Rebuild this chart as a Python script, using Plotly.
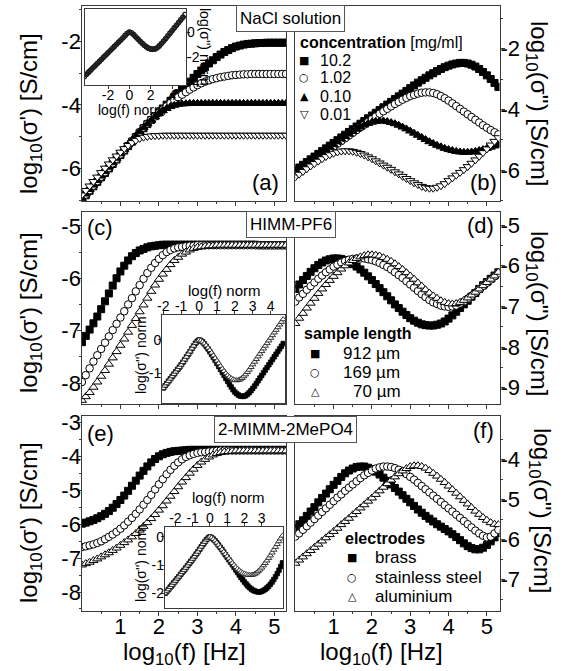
import plotly.graph_objects as go

# ---------------- data ----------------
LOG_F = [0.0, 0.1, 0.2, 0.3, 0.4, 0.5, 0.6, 0.7, 0.8, 0.9,
         1.0, 1.1, 1.2, 1.3, 1.4, 1.5, 1.6, 1.7, 1.8, 1.9,
         2.0, 2.1, 2.2, 2.3, 2.4, 2.5, 2.6, 2.7, 2.8, 2.9,
         3.0, 3.1, 3.2, 3.3, 3.4, 3.5, 3.6, 3.7, 3.8, 3.9,
         4.0, 4.1, 4.2, 4.3, 4.4, 4.5, 4.6, 4.7, 4.8, 4.9,
         5.0, 5.1, 5.2, 5.3]

# (a) NaCl solution, log sigma'
NACL_RE_10_2 = [-6.97, -6.83, -6.69, -6.55, -6.41, -6.27, -6.13, -5.99, -5.85, -5.71,
                -5.57, -5.43, -5.29, -5.15, -5.01, -4.87, -4.73, -4.60, -4.47, -4.35,
                -4.23, -4.11, -3.99, -3.87, -3.75, -3.63, -3.51, -3.39, -3.27, -3.15,
                -3.03, -2.92, -2.81, -2.70, -2.60, -2.50, -2.42, -2.34, -2.28, -2.22,
                -2.17, -2.14, -2.11, -2.09, -2.08, -2.07, -2.06, -2.06, -2.05, -2.05,
                -2.05, -2.05, -2.05, -2.05]
NACL_RE_1_02 = [-6.95, -6.81, -6.67, -6.53, -6.39, -6.25, -6.11, -5.97, -5.83, -5.69,
                -5.55, -5.41, -5.27, -5.13, -4.99, -4.85, -4.71, -4.58, -4.46, -4.36,
                -4.25, -4.14, -4.04, -3.94, -3.85, -3.76, -3.68, -3.60, -3.52, -3.45,
                -3.38, -3.32, -3.27, -3.23, -3.19, -3.16, -3.13, -3.11, -3.09, -3.07,
                -3.06, -3.05, -3.04, -3.04, -3.03, -3.03, -3.03, -3.03, -3.03, -3.03,
                -3.03, -3.03, -3.03, -3.03]
NACL_RE_0_10 = [-6.93, -6.79, -6.65, -6.51, -6.37, -6.23, -6.09, -5.95, -5.81, -5.67,
                -5.53, -5.39, -5.25, -5.11, -4.97, -4.84, -4.71, -4.59, -4.48, -4.37,
                -4.27, -4.18, -4.11, -4.05, -4.01, -3.98, -3.97, -3.96, -3.95, -3.95,
                -3.95, -3.95, -3.95, -3.95, -3.95, -3.95, -3.95, -3.95, -3.95, -3.95,
                -3.95, -3.95, -3.95, -3.95, -3.95, -3.95, -3.95, -3.95, -3.95, -3.95,
                -3.95, -3.95, -3.95, -3.95]
NACL_RE_0_01 = [-6.82, -6.68, -6.54, -6.40, -6.26, -6.12, -5.98, -5.85, -5.72, -5.60,
                -5.48, -5.37, -5.27, -5.18, -5.11, -5.05, -5.01, -4.99, -4.97, -4.96,
                -4.96, -4.95, -4.95, -4.95, -4.95, -4.95, -4.95, -4.95, -4.95, -4.95,
                -4.95, -4.95, -4.95, -4.95, -4.95, -4.95, -4.95, -4.95, -4.95, -4.95,
                -4.95, -4.95, -4.95, -4.95, -4.95, -4.95, -4.95, -4.95, -4.95, -4.95,
                -4.95, -4.95, -4.95, -4.95]

# (b) NaCl solution, log sigma''
NACL_IM_10_2 = [-6.00, -5.91, -5.82, -5.73, -5.64, -5.55, -5.46, -5.37, -5.28, -5.19,
                -5.10, -5.01, -4.92, -4.83, -4.74, -4.65, -4.56, -4.47, -4.38, -4.29,
                -4.20, -4.11, -4.02, -3.93, -3.84, -3.75, -3.66, -3.57, -3.48, -3.39,
                -3.30, -3.21, -3.12, -3.04, -2.96, -2.88, -2.81, -2.74, -2.67, -2.61,
                -2.56, -2.52, -2.49, -2.47, -2.47, -2.49, -2.53, -2.59, -2.67, -2.77,
                -2.88, -3.00, -3.13, -3.26]
NACL_IM_1_02 = [-6.12, -6.03, -5.94, -5.85, -5.76, -5.67, -5.58, -5.49, -5.40, -5.31,
                -5.22, -5.13, -5.04, -4.95, -4.86, -4.77, -4.68, -4.59, -4.50, -4.41,
                -4.32, -4.23, -4.14, -4.06, -3.98, -3.90, -3.82, -3.75, -3.68, -3.62,
                -3.56, -3.52, -3.48, -3.45, -3.44, -3.44, -3.46, -3.50, -3.56, -3.63,
                -3.71, -3.80, -3.89, -3.98, -4.07, -4.16, -4.25, -4.34, -4.43, -4.52,
                -4.60, -4.68, -4.75, -4.82]
NACL_IM_0_10 = [-6.05, -5.96, -5.87, -5.78, -5.69, -5.60, -5.51, -5.42, -5.33, -5.24,
                -5.15, -5.06, -4.97, -4.89, -4.81, -4.73, -4.65, -4.58, -4.51, -4.46,
                -4.42, -4.39, -4.38, -4.38, -4.40, -4.43, -4.47, -4.52, -4.58, -4.64,
                -4.71, -4.78, -4.85, -4.92, -4.99, -5.06, -5.12, -5.18, -5.23, -5.28,
                -5.32, -5.35, -5.38, -5.40, -5.41, -5.41, -5.40, -5.38, -5.35, -5.32,
                -5.28, -5.24, -5.20, -5.16]
NACL_IM_0_01 = [-6.22, -6.13, -6.04, -5.95, -5.86, -5.78, -5.70, -5.62, -5.55, -5.49,
                -5.44, -5.40, -5.37, -5.36, -5.36, -5.38, -5.41, -5.45, -5.50, -5.56,
                -5.62, -5.69, -5.76, -5.83, -5.90, -5.97, -6.05, -6.12, -6.20, -6.27,
                -6.34, -6.41, -6.47, -6.53, -6.57, -6.59, -6.59, -6.56, -6.51, -6.44,
                -6.34, -6.25, -6.16, -6.07, -5.98, -5.88, -5.77, -5.66, -5.54, -5.42,
                -5.30, -5.17, -5.05, -4.93]

# (c) HIMM-PF6, log sigma'
HIMM_RE_912 = [-7.22, -7.10, -6.98, -6.86, -6.73, -6.59, -6.44, -6.29, -6.14, -6.00,
               -5.87, -5.76, -5.66, -5.58, -5.52, -5.47, -5.44, -5.41, -5.39, -5.38,
               -5.37, -5.36, -5.36, -5.36, -5.36, -5.36, -5.36, -5.36, -5.36, -5.36,
               -5.36, -5.36, -5.36, -5.36, -5.36, -5.36, -5.36, -5.36, -5.36, -5.36,
               -5.36, -5.36, -5.36, -5.36, -5.36, -5.36, -5.37, -5.37, -5.37, -5.37,
               -5.37, -5.37, -5.37, -5.37]
HIMM_RE_169 = [-7.98, -7.85, -7.72, -7.59, -7.47, -7.35, -7.23, -7.11, -6.99, -6.87,
               -6.75, -6.63, -6.50, -6.38, -6.25, -6.13, -6.01, -5.90, -5.80, -5.71,
               -5.63, -5.56, -5.50, -5.46, -5.43, -5.41, -5.40, -5.39, -5.38, -5.38,
               -5.37, -5.37, -5.37, -5.37, -5.37, -5.37, -5.37, -5.37, -5.37, -5.37,
               -5.37, -5.37, -5.37, -5.37, -5.37, -5.37, -5.37, -5.37, -5.37, -5.37,
               -5.37, -5.37, -5.37, -5.37]
HIMM_RE_70 = [-8.33, -8.26, -8.18, -8.08, -7.98, -7.87, -7.76, -7.64, -7.52, -7.40,
              -7.28, -7.16, -7.03, -6.90, -6.77, -6.64, -6.51, -6.38, -6.25, -6.13,
              -6.02, -5.92, -5.83, -5.74, -5.66, -5.60, -5.54, -5.50, -5.46, -5.43,
              -5.41, -5.40, -5.39, -5.38, -5.38, -5.37, -5.37, -5.37, -5.37, -5.37,
              -5.37, -5.37, -5.37, -5.37, -5.37, -5.37, -5.37, -5.37, -5.37, -5.37,
              -5.37, -5.37, -5.37, -5.37]

# (d) HIMM-PF6, log sigma''
HIMM_IM_912 = [-6.57, -6.46, -6.35, -6.25, -6.15, -6.06, -5.98, -5.92, -5.87, -5.84,
               -5.82, -5.82, -5.83, -5.86, -5.90, -5.96, -6.02, -6.09, -6.17, -6.26,
               -6.35, -6.45, -6.55, -6.65, -6.75, -6.85, -6.95, -7.04, -7.13, -7.21,
               -7.29, -7.35, -7.40, -7.44, -7.46, -7.47, -7.47, -7.45, -7.42, -7.37,
               -7.30, -7.22, -7.13, -7.04, -6.95, -6.86, -6.76, -6.67, -6.57, -6.48,
               -6.40, -6.32, -6.24, -6.16]
HIMM_IM_169 = [-6.88, -6.78, -6.69, -6.59, -6.50, -6.41, -6.32, -6.24, -6.16, -6.09,
               -6.02, -5.97, -5.92, -5.88, -5.85, -5.83, -5.82, -5.82, -5.82, -5.84,
               -5.86, -5.89, -5.93, -5.98, -6.03, -6.09, -6.16, -6.23, -6.30, -6.38,
               -6.46, -6.54, -6.62, -6.70, -6.77, -6.84, -6.90, -6.94, -6.98, -7.00,
               -7.01, -7.00, -6.98, -6.93, -6.88, -6.81, -6.74, -6.66, -6.58, -6.50,
               -6.42, -6.34, -6.26, -6.18]
HIMM_IM_70 = [-7.42, -7.29, -7.17, -7.04, -6.92, -6.80, -6.68, -6.57, -6.46, -6.36,
              -6.26, -6.17, -6.08, -6.00, -5.93, -5.87, -5.82, -5.78, -5.75, -5.73,
              -5.73, -5.74, -5.76, -5.80, -5.84, -5.89, -5.95, -6.02, -6.09, -6.17,
              -6.25, -6.33, -6.42, -6.50, -6.59, -6.67, -6.74, -6.80, -6.86, -6.90,
              -6.93, -6.94, -6.93, -6.90, -6.85, -6.79, -6.72, -6.65, -6.57, -6.49,
              -6.41, -6.33, -6.25, -6.16]

# (e) 2-MIMM-2MePO4, log sigma'
MIMM_RE_BRASS = [-5.98, -5.95, -5.91, -5.87, -5.82, -5.76, -5.69, -5.61, -5.51, -5.40,
                 -5.28, -5.15, -5.01, -4.86, -4.71, -4.56, -4.42, -4.29, -4.17, -4.07,
                 -3.99, -3.93, -3.89, -3.86, -3.84, -3.83, -3.82, -3.81, -3.80, -3.80,
                 -3.80, -3.80, -3.80, -3.80, -3.80, -3.80, -3.80, -3.80, -3.80, -3.80,
                 -3.80, -3.80, -3.80, -3.80, -3.80, -3.80, -3.80, -3.80, -3.80, -3.80,
                 -3.80, -3.80, -3.80, -3.80]
MIMM_RE_STEEL = [-6.67, -6.65, -6.62, -6.59, -6.55, -6.50, -6.44, -6.37, -6.30, -6.22,
                 -6.13, -6.03, -5.92, -5.81, -5.69, -5.56, -5.42, -5.28, -5.13, -4.97,
                 -4.82, -4.67, -4.52, -4.39, -4.27, -4.17, -4.08, -4.01, -3.96, -3.92,
                 -3.89, -3.87, -3.86, -3.85, -3.84, -3.83, -3.82, -3.82, -3.82, -3.82,
                 -3.82, -3.82, -3.82, -3.82, -3.82, -3.82, -3.82, -3.82, -3.82, -3.82,
                 -3.82, -3.82, -3.82, -3.82]
MIMM_RE_ALU = [-7.20, -7.16, -7.12, -7.07, -7.02, -6.96, -6.90, -6.84, -6.77, -6.70,
               -6.62, -6.54, -6.46, -6.37, -6.27, -6.17, -6.06, -5.95, -5.83, -5.71,
               -5.58, -5.45, -5.31, -5.17, -5.03, -4.89, -4.75, -4.62, -4.49, -4.37,
               -4.26, -4.16, -4.08, -4.01, -3.95, -3.91, -3.88, -3.86, -3.85, -3.84,
               -3.83, -3.83, -3.83, -3.83, -3.83, -3.83, -3.83, -3.83, -3.83, -3.83,
               -3.83, -3.83, -3.83, -3.83]

# (f) 2-MIMM-2MePO4, log sigma''
MIMM_IM_BRASS = [-5.72, -5.62, -5.52, -5.41, -5.30, -5.19, -5.07, -4.96, -4.85, -4.74,
                 -4.63, -4.53, -4.43, -4.34, -4.27, -4.22, -4.18, -4.17, -4.17, -4.20,
                 -4.24, -4.30, -4.37, -4.45, -4.53, -4.62, -4.71, -4.80, -4.89, -4.98,
                 -5.07, -5.16, -5.25, -5.33, -5.41, -5.48, -5.55, -5.62, -5.68, -5.74,
                 -5.80, -5.87, -5.94, -6.02, -6.10, -6.17, -6.22, -6.25, -6.25, -6.21,
                 -6.14, -6.05, -5.95, -5.84]
MIMM_IM_STEEL = [-5.93, -5.85, -5.76, -5.67, -5.58, -5.49, -5.40, -5.31, -5.22, -5.13,
                 -5.04, -4.95, -4.87, -4.78, -4.70, -4.62, -4.54, -4.46, -4.39, -4.33,
                 -4.27, -4.22, -4.19, -4.17, -4.17, -4.18, -4.21, -4.25, -4.30, -4.36,
                 -4.43, -4.50, -4.58, -4.66, -4.74, -4.82, -4.90, -4.98, -5.06, -5.14,
                 -5.22, -5.30, -5.38, -5.46, -5.54, -5.62, -5.70, -5.78, -5.85, -5.91,
                 -5.95, -5.93, -5.85, -5.76]
MIMM_IM_ALU = [-6.60, -6.52, -6.44, -6.36, -6.28, -6.20, -6.12, -6.04, -5.96, -5.88,
               -5.80, -5.72, -5.63, -5.55, -5.47, -5.38, -5.30, -5.21, -5.13, -5.04,
               -4.96, -4.87, -4.78, -4.69, -4.60, -4.51, -4.43, -4.35, -4.28, -4.22,
               -4.17, -4.15, -4.15, -4.17, -4.21, -4.27, -4.34, -4.41, -4.49, -4.57,
               -4.66, -4.75, -4.84, -4.93, -5.02, -5.11, -5.20, -5.29, -5.37, -5.45,
               -5.52, -5.58, -5.62, -5.63]

# insets: normalised master curves
NORM_F_A = [-4.2, -4.0, -3.8, -3.6, -3.4, -3.2, -3.0, -2.8, -2.6, -2.4,
            -2.2, -2.0, -1.8, -1.6, -1.4, -1.2, -1.0, -0.8, -0.6, -0.4,
            -0.2, 0.0, 0.2, 0.4, 0.6, 0.8, 1.0, 1.2, 1.4, 1.6,
            1.8, 2.0, 2.2, 2.4, 2.6, 2.8, 3.0, 3.2, 3.4, 3.6,
            3.8, 4.0, 4.2, 4.4, 4.6, 4.8, 5.0, 5.2]
NACL_NORM_HI = [-3.52, -3.35, -3.18, -3.01, -2.84, -2.67, -2.50, -2.33, -2.16, -1.99,
                -1.82, -1.65, -1.48, -1.31, -1.14, -0.97, -0.80, -0.63, -0.46, -0.27,
                -0.10, 0.00, -0.06, -0.20, -0.38, -0.56, -0.74, -0.90, -1.05, -1.18,
                -1.28, -1.34, -1.36, -1.34, -1.25, -1.10, -0.92, -0.72, -0.51, -0.30,
                -0.09, 0.12, 0.33, 0.54, 0.75, 0.96, 1.17, 1.38]
NACL_NORM_LO = [-3.45, -3.28, -3.11, -2.94, -2.77, -2.60, -2.43, -2.26, -2.09, -1.92,
                -1.75, -1.58, -1.41, -1.24, -1.07, -0.90, -0.73, -0.56, -0.40, -0.22,
                -0.07, 0.00, -0.10, -0.25, -0.43, -0.61, -0.79, -0.96, -1.11, -1.24,
                -1.33, -1.38, -1.39, -1.35, -1.26, -1.12, -0.95, -0.76, -0.56, -0.35,
                -0.14, 0.07, 0.28, 0.49, 0.70, 0.91, 1.12, 1.33]

NORM_F_C = [-2.0, -1.9, -1.8, -1.7, -1.6, -1.5, -1.4, -1.3, -1.2, -1.1,
            -1.0, -0.9, -0.8, -0.7, -0.6, -0.5, -0.4, -0.3, -0.2, -0.1,
            0.0, 0.1, 0.2, 0.3, 0.4, 0.5, 0.6, 0.7, 0.8, 0.9,
            1.0, 1.1, 1.2, 1.3, 1.4, 1.5, 1.6, 1.7, 1.8, 1.9,
            2.0, 2.1, 2.2, 2.3, 2.4, 2.5, 2.6, 2.7, 2.8, 2.9,
            3.0, 3.1, 3.2, 3.3, 3.4, 3.5, 3.6, 3.7, 3.8, 3.9,
            4.0, 4.1, 4.2, 4.3, 4.4, 4.5, 4.6, 4.7]
HIMM_NORM_912 = [-1.45, -1.38, -1.31, -1.24, -1.17, -1.10, -1.03, -0.96, -0.89, -0.82,
                 -0.75, -0.67, -0.59, -0.51, -0.43, -0.35, -0.26, -0.18, -0.10, -0.04,
                 0.00, -0.02, -0.06, -0.12, -0.19, -0.27, -0.35, -0.44, -0.53, -0.62,
                 -0.71, -0.80, -0.89, -0.98, -1.07, -1.16, -1.25, -1.34, -1.42, -1.50,
                 -1.57, -1.62, -1.66, -1.69, -1.70, -1.70, -1.68, -1.64, -1.59, -1.53,
                 -1.46, -1.39, -1.31, -1.23, -1.15, -1.07, -0.99, -0.91, -0.83, -0.75,
                 -0.67, -0.59, -0.51, -0.43, -0.35, -0.27, -0.19, -0.11]
HIMM_NORM_70 = [-1.45, -1.38, -1.31, -1.24, -1.17, -1.10, -1.03, -0.96, -0.89, -0.82,
                -0.75, -0.67, -0.59, -0.51, -0.43, -0.35, -0.26, -0.18, -0.10, -0.04,
                0.00, -0.02, -0.06, -0.11, -0.17, -0.24, -0.31, -0.39, -0.47, -0.55,
                -0.63, -0.71, -0.79, -0.87, -0.94, -1.01, -1.07, -1.12, -1.16, -1.19,
                -1.21, -1.22, -1.21, -1.19, -1.15, -1.10, -1.04, -0.97, -0.90, -0.82,
                -0.74, -0.66, -0.58, -0.50, -0.42, -0.34, -0.26, -0.18, -0.10, -0.02,
                0.06, 0.14, 0.22, 0.30, 0.38, 0.46, 0.54, 0.62]

NORM_F_E = [-2.6, -2.5, -2.4, -2.3, -2.2, -2.1, -2.0, -1.9, -1.8, -1.7,
            -1.6, -1.5, -1.4, -1.3, -1.2, -1.1, -1.0, -0.9, -0.8, -0.7,
            -0.6, -0.5, -0.4, -0.3, -0.2, -0.1, 0.0, 0.1, 0.2, 0.3,
            0.4, 0.5, 0.6, 0.7, 0.8, 0.9, 1.0, 1.1, 1.2, 1.3,
            1.4, 1.5, 1.6, 1.7, 1.8, 1.9, 2.0, 2.1, 2.2, 2.3,
            2.4, 2.5, 2.6, 2.7, 2.8, 2.9, 3.0, 3.1, 3.2, 3.3,
            3.4, 3.5, 3.6, 3.7, 3.8, 3.9, 4.0, 4.1, 4.2]
MIMM_NORM_BRASS = [-2.00, -1.93, -1.86, -1.78, -1.71, -1.63, -1.56, -1.48, -1.41, -1.33,
                   -1.25, -1.18, -1.10, -1.02, -0.94, -0.86, -0.78, -0.70, -0.61, -0.53,
                   -0.44, -0.35, -0.26, -0.18, -0.10, -0.04, 0.00,
                   -0.03, -0.08, -0.14, -0.21, -0.29, -0.37, -0.45, -0.54, -0.63, -0.72,
                   -0.81, -0.90, -0.99, -1.08, -1.17, -1.26, -1.35, -1.44, -1.52, -1.60,
                   -1.67, -1.74, -1.80, -1.85, -1.89, -1.92, -1.94, -1.95, -1.95, -1.93,
                   -1.90, -1.86, -1.81, -1.75, -1.68, -1.60, -1.51, -1.41, -1.30, -1.18,
                   -1.05, -0.92]
MIMM_NORM_ALU = [-2.00, -1.93, -1.86, -1.78, -1.71, -1.63, -1.56, -1.48, -1.41, -1.33,
                 -1.25, -1.18, -1.10, -1.02, -0.94, -0.86, -0.78, -0.70, -0.61, -0.53,
                 -0.44, -0.35, -0.26, -0.18, -0.10, -0.04, 0.00,
                 -0.03, -0.08, -0.14, -0.21, -0.29, -0.37, -0.45, -0.53, -0.61, -0.69,
                 -0.77, -0.85, -0.93, -1.00, -1.07, -1.13, -1.19, -1.24, -1.28, -1.31,
                 -1.33, -1.35, -1.35, -1.35, -1.34, -1.31, -1.27, -1.22, -1.16, -1.09,
                 -1.01, -0.93, -0.84, -0.75, -0.66, -0.56, -0.46, -0.36, -0.26, -0.16,
                 -0.06, 0.04]

for arr in [NACL_RE_10_2, NACL_RE_1_02, NACL_RE_0_10, NACL_RE_0_01,
            NACL_IM_10_2, NACL_IM_1_02, NACL_IM_0_10, NACL_IM_0_01,
            HIMM_RE_912, HIMM_RE_169, HIMM_RE_70, HIMM_IM_912, HIMM_IM_169, HIMM_IM_70,
            MIMM_RE_BRASS, MIMM_RE_STEEL, MIMM_RE_ALU, MIMM_IM_BRASS, MIMM_IM_STEEL, MIMM_IM_ALU]:
    assert len(arr) == len(LOG_F), len(arr)
assert len(NACL_NORM_HI) == len(NORM_F_A) == len(NACL_NORM_LO)
assert len(HIMM_NORM_912) == len(NORM_F_C) == len(HIMM_NORM_70)
assert len(MIMM_NORM_BRASS) == len(NORM_F_E) == len(MIMM_NORM_ALU)

# ---------------- styling / layout ----------------
W, H = 567, 671
FONT = "Liberation Sans, Arial, Helvetica, sans-serif"
SYMFONT = "DejaVu Sans"
LC = "#3a3a3a"


def fx(p):
    return p / W


def fy(p):
    return 1 - p / H


LEFT = (81.9, 286.0)
RIGHT = (295.3, 499.5)
ROW1 = (6.0, 200.7)
ROW2 = (211.7, 404.0)
ROW3 = (416.0, 611.0)

MK_SQ = dict(symbol="square", size=7, color="black", line=dict(color="black", width=1))
MK_CI = dict(symbol="circle", size=7.5, color="white", line=dict(color="black", width=1))
MK_TU = dict(symbol="triangle-up", size=8, color="black", line=dict(color="black", width=1))
MK_TD_O = dict(symbol="triangle-down", size=8, color="white", line=dict(color="black", width=1))
MK_TU_O = dict(symbol="triangle-up", size=8, color="white", line=dict(color="black", width=1))

fig = go.Figure()


def sfx(n):
    return "" if n == 1 else str(n)


def add(x, y, n, mk=None, name="", mode="markers", line=None):
    fig.add_trace(go.Scatter(x=x, y=y, xaxis="x" + sfx(n), yaxis="y" + sfx(n),
                             mode=mode, marker=mk, line=line, name=name,
                             showlegend=False, hoverinfo="skip"))


# (a)
add(LOG_F, NACL_RE_10_2, 1, MK_SQ, "10.2")
add(LOG_F, NACL_RE_1_02, 1, MK_CI, "1.02")
add(LOG_F, NACL_RE_0_10, 1, MK_TU, "0.10")
add(LOG_F, NACL_RE_0_01, 1, MK_TD_O, "0.01")
# (b)
add(LOG_F, NACL_IM_10_2, 2, MK_SQ, "10.2")
add(LOG_F, NACL_IM_1_02, 2, MK_CI, "1.02")
add(LOG_F, NACL_IM_0_10, 2, MK_TU, "0.10")
add(LOG_F, NACL_IM_0_01, 2, MK_TD_O, "0.01")
# (c)
add(LOG_F, HIMM_RE_912, 3, MK_SQ, "912 µm")
add(LOG_F, HIMM_RE_169, 3, MK_CI, "169 µm")
add(LOG_F, HIMM_RE_70, 3, MK_TU_O, "70 µm")
# (d)
add(LOG_F, HIMM_IM_912, 4, MK_SQ, "912 µm")
add(LOG_F, HIMM_IM_169, 4, MK_CI, "169 µm")
add(LOG_F, HIMM_IM_70, 4, MK_TU_O, "70 µm")
# (e)
add(LOG_F, MIMM_RE_BRASS, 5, MK_SQ, "brass")
add(LOG_F, MIMM_RE_STEEL, 5, MK_CI, "stainless steel")
add(LOG_F, MIMM_RE_ALU, 5, MK_TU_O, "aluminium")
# (f)
add(LOG_F, MIMM_IM_BRASS, 6, MK_SQ, "brass")
add(LOG_F, MIMM_IM_STEEL, 6, MK_CI, "stainless steel")
add(LOG_F, MIMM_IM_ALU, 6, MK_TU_O, "aluminium")

# insets
add(NORM_F_A, NACL_NORM_LO, 7, name="norm", mode="lines", line=dict(color="#3c3c3c", width=4.5))
add(NORM_F_A, NACL_NORM_HI, 7, dict(symbol="circle-open", size=4.5, color="#1a1a1a", line=dict(width=1.1)), "norm")
MK_ISQ = dict(symbol="square", size=4.5, color="black", line=dict(color="black", width=0.8))
MK_ITR = dict(symbol="triangle-up", size=5.5, color="white", line=dict(color="#222", width=0.9))
add(NORM_F_C, HIMM_NORM_912, 8, MK_ISQ, "912 µm")
add(NORM_F_C, HIMM_NORM_70, 8, MK_ITR, "70 µm")
add(NORM_F_E, MIMM_NORM_BRASS, 9, MK_ISQ, "brass")
add(NORM_F_E, MIMM_NORM_ALU, 9, MK_ITR, "aluminium")


def minor_of(minor, mtl):
    return dict(ticks="outside" if minor else "", ticklen=mtl, tickwidth=1, tickcolor=LC,
                tickmode="array", tickvals=minor or [])


def tick_x(n, cols, rng, major, minor, side="bottom", tl=4, mtl=2):
    return dict(domain=[fx(cols[0]), fx(cols[1])], range=rng, anchor="y" + sfx(n), side=side,
                showline=True, mirror=True, linecolor=LC, linewidth=1,
                ticks="outside", ticklen=tl, tickwidth=1, tickcolor=LC,
                tickmode="array", tickvals=major, showticklabels=False,
                minor=minor_of(minor, mtl),
                showgrid=False, zeroline=False, fixedrange=True, automargin=False)


def tick_y(n, rows, rng, major, minor, side, tl=4, mtl=2):
    return dict(domain=[fy(rows[1]), fy(rows[0])], range=rng, anchor="x" + sfx(n), side=side,
                showline=True, mirror=True, linecolor=LC, linewidth=1,
                ticks="outside", ticklen=tl, tickwidth=1, tickcolor=LC,
                tickmode="array", tickvals=major, showticklabels=False,
                minor=minor_of(minor, mtl),
                showgrid=False, zeroline=False, fixedrange=True, automargin=False)


def label_axis(letter, n, rng, major, texts, side, size):
    other = "y" if letter == "x" else "x"
    return dict(overlaying=letter + sfx(n), anchor=other + sfx(n), range=rng, side=side,
                showline=False, ticks="", tickmode="array", tickvals=major, ticktext=texts,
                showticklabels=True, tickfont=dict(size=size, family=FONT, color="black"),
                showgrid=False, zeroline=False, fixedrange=True, automargin=False)


XMAJ = [1, 2, 3, 4, 5]
XTXT = ["1", "2", "3", "4", "5"]
XMIN = [0.5, 1.5, 2.5, 3.5, 4.5]

layout = dict(
    width=W, height=H, margin=dict(l=0, r=0, t=0, b=0), template="none",
    paper_bgcolor="white", plot_bgcolor="white", showlegend=False,
    font=dict(family=FONT, color="black"),
)

# main panels: (n, cols, rows, xrange, yrange, ymajor, yminor, yside, xlabels)
PANELS = [
    (1, LEFT, ROW1, [0, 5.3], [-7.0, -0.9], [-2, -4, -6], [-1, -3, -5, -7], "left", False),
    (2, RIGHT, ROW1, [0, 5.33], [-7.0, -0.6], [-2, -4, -6], [-1, -3, -5, -7], "right", False),
    (3, LEFT, ROW2, [0, 5.3], [-8.4, -4.73], [-5, -6, -7, -8], [-5.5, -6.5, -7.5, -8.5], "left", False),
    (4, RIGHT, ROW2, [0, 5.33], [-9.4, -4.67], [-5, -6, -7, -8, -9], [-5.5, -6.5, -7.5, -8.5], "right", False),
    (5, LEFT, ROW3, [0, 5.3], [-8.56, -2.8], [-3, -4, -5, -6, -7, -8],
     [-3.5, -4.5, -5.5, -6.5, -7.5, -8.5], "left", True),
    (6, RIGHT, ROW3, [0, 5.33], [-7.8, -2.9], [-4, -5, -6, -7], [-3.5, -4.5, -5.5, -6.5, -7.5], "right", True),
]
for n, cols, rows, xr, yr, ymaj, ymin, yside, xlab in PANELS:
    layout["xaxis" + sfx(n)] = tick_x(n, cols, xr, XMAJ, XMIN)
    layout["yaxis" + sfx(n)] = tick_y(n, rows, yr, ymaj, ymin, yside)
    layout["yaxis%d" % (20 + n)] = label_axis("y", n, yr, ymaj, [str(v) for v in ymaj], yside, 22)
    fig.add_trace(go.Scatter(x=[], y=[], xaxis="x" + sfx(n), yaxis="y%d" % (20 + n),
                             showlegend=False, hoverinfo="skip"))
    if xlab:
        layout["xaxis%d" % (10 + n)] = label_axis("x", n, xr, XMAJ, XTXT, "bottom", 22)
        fig.add_trace(go.Scatter(x=[], y=[], xaxis="x%d" % (10 + n), yaxis="y" + sfx(n),
                                 showlegend=False, hoverinfo="skip"))

# insets: (n, cols, rows, xrange, yrange, xticks, xside, yticks, yside)
INSETS = [
    (7, (84.5, 186.0), (9.3, 85.0), [-4.2, 5.3], [-4.2, 1.8], [-2, 0, 2, 4], "bottom", [0, -2, -4], "right"),
    (8, (162.3, 285.0), (315.0, 403.0), [-2.05, 4.8], [-1.9, 0.75], [-2, -1, 0, 1, 2, 3, 4], "top",
     [0, -1], "left"),
    (9, (165.0, 283.3), (526.7, 608.3), [-2.6, 4.25], [-2.53, 0.36], [-2, -1, 0, 1, 2, 3], "top",
     [0, -1, -2], "left"),
]
for n, cols, rows, xr, yr, xt, xside, yt, yside in INSETS:
    layout["xaxis%d" % n] = tick_x(n, cols, xr, xt, None, side=xside, tl=3)
    layout["yaxis%d" % n] = tick_y(n, rows, yr, yt, None, yside, tl=3)
    layout["xaxis%d" % (10 + n)] = label_axis("x", n, xr, xt, [str(v) for v in xt], xside, 14)
    layout["yaxis%d" % (20 + n)] = label_axis("y", n, yr, yt, [str(v) for v in yt], yside, 14)
    fig.add_trace(go.Scatter(x=[], y=[], xaxis="x%d" % (10 + n), yaxis="y%d" % n,
                             showlegend=False, hoverinfo="skip"))
    fig.add_trace(go.Scatter(x=[], y=[], xaxis="x%d" % n, yaxis="y%d" % (20 + n),
                             showlegend=False, hoverinfo="skip"))

fig.update_layout(**layout)


def A(text, px, py, size, angle=0, xanchor="center", family=FONT, **kw):
    return dict(text=text, x=fx(px), y=fy(py), xref="paper", yref="paper", showarrow=False,
                font=dict(size=size, family=family, color="black"), textangle=angle,
                xanchor=xanchor, yanchor="middle", **kw)


Y1 = "log<sub>10</sub>(σ') [S/cm]"
Y2 = "log<sub>10</sub>(σ'') [S/cm]"
XT = "log<sub>10</sub>(f) [Hz]"
NORM_Y = "log(σ'') norm"
NORM_X = "log(f) norm"
BOX = dict(bordercolor="#555555", borderwidth=1, borderpad=3, bgcolor="white")

anns = [
    A(Y1, 30, 114, 24, -90), A(Y1, 30, 313, 24, -90), A(Y1, 30, 523, 24, -90),
    A(Y2, 538, 103, 24, 90), A(Y2, 538, 313, 24, 90), A(Y2, 540, 510, 24, 90),
    A(XT, 184, 653, 24), A(XT, 381, 653, 24),
    A("(a)", 265, 182, 22), A("(b)", 483, 182, 22), A("(c)", 100, 227, 22),
    A("(d)", 480, 225, 22), A("(e)", 100, 433, 22), A("(f)", 483, 430, 22),
    A("NaCl solution", 290, 18.5, 17, **BOX),
    A("HIMM-PF6", 290.5, 224.5, 17, **BOX),
    A("2-MIMM-2MePO4", 285, 429.5, 17, **BOX),
    # inset titles
    A(NORM_X, 132, 110, 14), A(NORM_Y, 205, 47, 14, 90),
    A(NORM_X, 224, 290, 15), A(NORM_Y, 141, 355, 14, -90),
    A(NORM_X, 228, 498, 15), A(NORM_Y, 141, 563, 14, -90),
    # legends
    A("<b>concentration</b> [mg/ml]", 298, 42, 16, xanchor="left"),
    A("<b>sample length</b>", 302, 333, 16, xanchor="left"),
    A("<b>electrodes</b>", 343, 538, 16, xanchor="left"),
]
LEG_B = [("■", "10.2", 60), ("○", "1.02", 78), ("▲", "0.10", 96), ("▽", "0.01", 114)]
for s, t, yy in LEG_B:
    anns.append(A(s, 304, yy, 11, family=SYMFONT))
    anns.append(A(t, 318, yy, 16, xanchor="left"))
LEG_D = [("■", "912 µm", 353, 341), ("○", "169 µm", 372, 341), ("△", "70 µm", 391, 350.5)]
for s, t, yy, xx in LEG_D:
    anns.append(A(s, 315, yy, 11, family=SYMFONT))
    anns.append(A(t, xx, yy, 17, xanchor="left"))
LEG_F = [("■", "brass", 557), ("○", "stainless steel", 577), ("△", "aluminium", 596)]
for s, t, yy in LEG_F:
    anns.append(A(s, 352, yy, 11, family=SYMFONT))
    anns.append(A(t, 373, yy, 17, xanchor="left"))

fig.update_layout(annotations=anns)
fig.write_html("out.html")
